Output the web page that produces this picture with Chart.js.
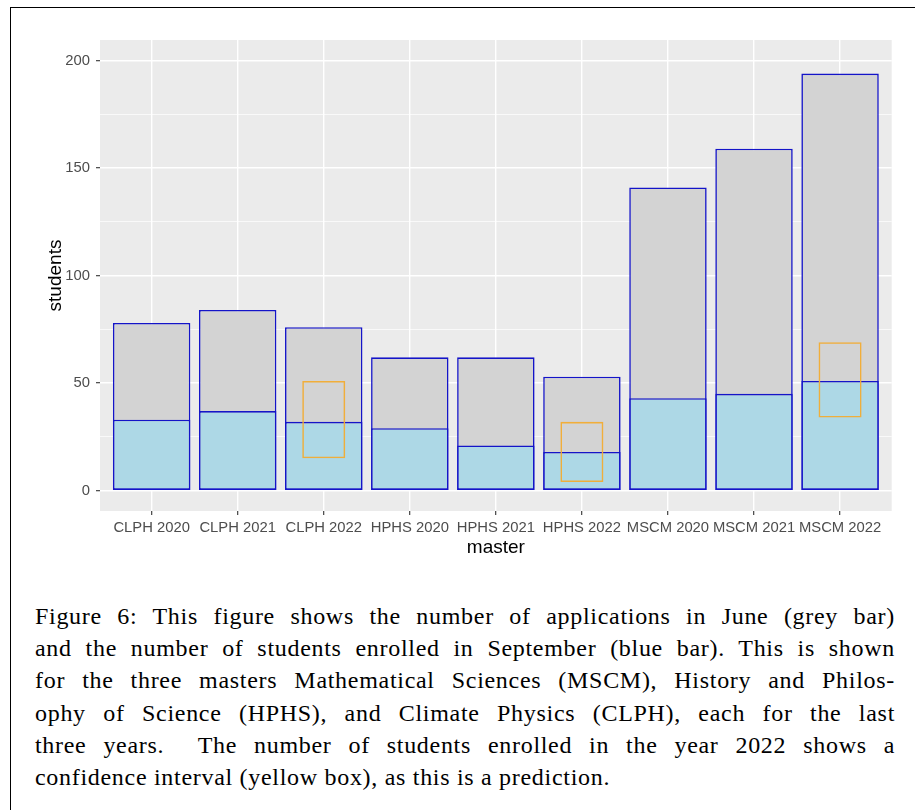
<!DOCTYPE html>
<html>
<head>
<meta charset="utf-8">
<script src="https://cdn.jsdelivr.net/npm/chart.js@4.4.1/dist/chart.umd.min.js"></script>
<style>
  html, body { margin: 0; padding: 0; background: #fff; overflow: hidden; }
  #frame { position: absolute; left: 10px; top: 7px; width: 2000px; height: 2000px;
           border-left: 1px solid #000; border-top: 1px solid #000; }
  #chart { position: absolute; left: 0; top: 0; }
  #caption { position: absolute; left: 35px; top: 600px; width: 860px;
             font-family: "Liberation Serif", serif; font-size: 24px; line-height: 32.2px;
             letter-spacing: 0.7px; color: #000; }
  #caption div { text-align: justify; text-align-last: justify; }
  #caption div.last { text-align-last: left; }
</style>
</head>
<body>
<div id="frame"></div>
<canvas id="chart" width="915" height="560"></canvas>
<div id="caption">
  <div>Figure 6: This figure shows the number of applications in June (grey bar)</div>
  <div>and the number of students enrolled in September (blue bar). This is shown</div>
  <div>for the three masters Mathematical Sciences (MSCM), History and Philos-</div>
  <div>ophy of Science (HPHS), and Climate Physics (CLPH), each for the last</div>
  <div>three years.&nbsp; The number of students enrolled in the year 2022 shows a</div>
  <div class="last">confidence interval (yellow box), as this is a prediction.</div>
</div>
<script>
// data
const masters = ['CLPH 2020', 'CLPH 2021', 'CLPH 2022', 'HPHS 2020', 'HPHS 2021', 'HPHS 2022', 'MSCM 2020', 'MSCM 2021', 'MSCM 2022'];
const applications = [78, 84, 76, 62, 62, 53, 141, 159, 194];
const enrolled = [33, 37, 32, 29, 21, 18, 43, 45, 51];
const ciMasters = ['CLPH 2022', 'HPHS 2022', 'MSCM 2022'];
const ciLow = [15, 4, 34];
const ciHigh = [51, 32, 69];
const yMajor = [0, 50, 100, 150, 200];
const yMinor = [25, 75, 125, 175];

// x positions of the discrete categories (1..n), like ggplot does
const pos = masters.map((m, i) => i + 1);
const xOf = name => masters.indexOf(name) + 1;

const tickFont = { family: 'Liberation Sans, Arial, sans-serif', size: 14.8 };
const titleFont = { family: 'Liberation Sans, Arial, sans-serif', size: 19, lineHeight: 1.2 };

// grey panel behind the plot, ggplot style
const panelBackground = {
  id: 'panelBackground',
  beforeDraw(chart) {
    const { ctx, chartArea: a } = chart;
    ctx.save();
    ctx.fillStyle = '#EBEBEB';
    ctx.fillRect(a.left, a.top, a.width, a.height);
    ctx.restore();
  }
};

new Chart(document.getElementById('chart'), {
  type: 'bar',
  data: {
    datasets: [
      {
        label: 'applications',
        data: pos.map((x, i) => ({ x, y: applications[i] })),
        backgroundColor: '#D3D3D3',
        borderColor: '#1414C8',
        borderWidth: 1.6,
        borderSkipped: false,
        grouped: false,
        categoryPercentage: 1,
        barPercentage: 0.9,
        order: 3
      },
      {
        label: 'enrolled',
        data: pos.map((x, i) => ({ x, y: enrolled[i] })),
        backgroundColor: '#ADD8E6',
        borderColor: '#1414C8',
        borderWidth: 1.6,
        borderSkipped: false,
        grouped: false,
        categoryPercentage: 1,
        barPercentage: 0.9,
        order: 2
      },
      {
        label: 'confidence interval',
        data: ciMasters.map((m, i) => ({ x: xOf(m), y: [ciLow[i], ciHigh[i]] })),
        backgroundColor: 'rgba(0,0,0,0)',
        borderColor: 'rgba(242,172,50,0.95)',
        borderWidth: 1.6,
        borderSkipped: false,
        grouped: false,
        categoryPercentage: 1,
        barPercentage: 0.5,
        order: 1
      }
    ]
  },
  options: {
    responsive: false,
    animation: false,
    layout: { padding: { top: 40, right: 23.3, left: 0, bottom: 0 } },
    plugins: { legend: { display: false }, tooltip: { enabled: false } },
    scales: {
      x: {
        type: 'linear',
        min: 0.4,
        max: 9.6,
        offset: false,
        afterBuildTicks: s => { s.ticks = pos.map(v => ({ value: v })); },
        afterFit: s => { s.height = 49; },
        ticks: {
          callback: v => masters[v - 1],
          autoSkip: false,
          maxRotation: 0,
          minRotation: 0,
          color: '#4D4D4D',
          font: tickFont,
          padding: 4
        },
        grid: { color: '#FFFFFF', lineWidth: 1.4, offset: false, tickLength: 4, tickColor: '#333333', tickWidth: 1.1 },
        border: { display: false },
        title: { display: true, text: 'master', color: '#000', font: titleFont, padding: { top: 0, bottom: 0.8 } }
      },
      y: {
        min: -9.5,
        max: 209.6,
        afterBuildTicks: s => {
          s.ticks = yMajor.concat(yMinor).sort((a, b) => a - b).map(v => ({ value: v }));
        },
        afterFit: s => { s.width = 100; },
        ticks: {
          callback: v => (yMajor.includes(v) ? String(v) : ''),
          color: '#4D4D4D',
          font: tickFont,
          padding: 6
        },
        grid: {
          color: '#FFFFFF',
          lineWidth: c => (yMajor.includes(c.tick.value) ? 1.4 : 0.7),
          tickLength: 4,
          tickColor: c => (yMajor.includes(c.tick.value) ? '#333333' : 'rgba(0,0,0,0)'),
          tickWidth: 1.1
        },
        border: { display: false },
        title: { display: true, text: 'students', color: '#000', font: titleFont, padding: { top: 44, bottom: 0 } }
      }
    }
  },
  plugins: [panelBackground]
});
</script>
</body>
</html>
